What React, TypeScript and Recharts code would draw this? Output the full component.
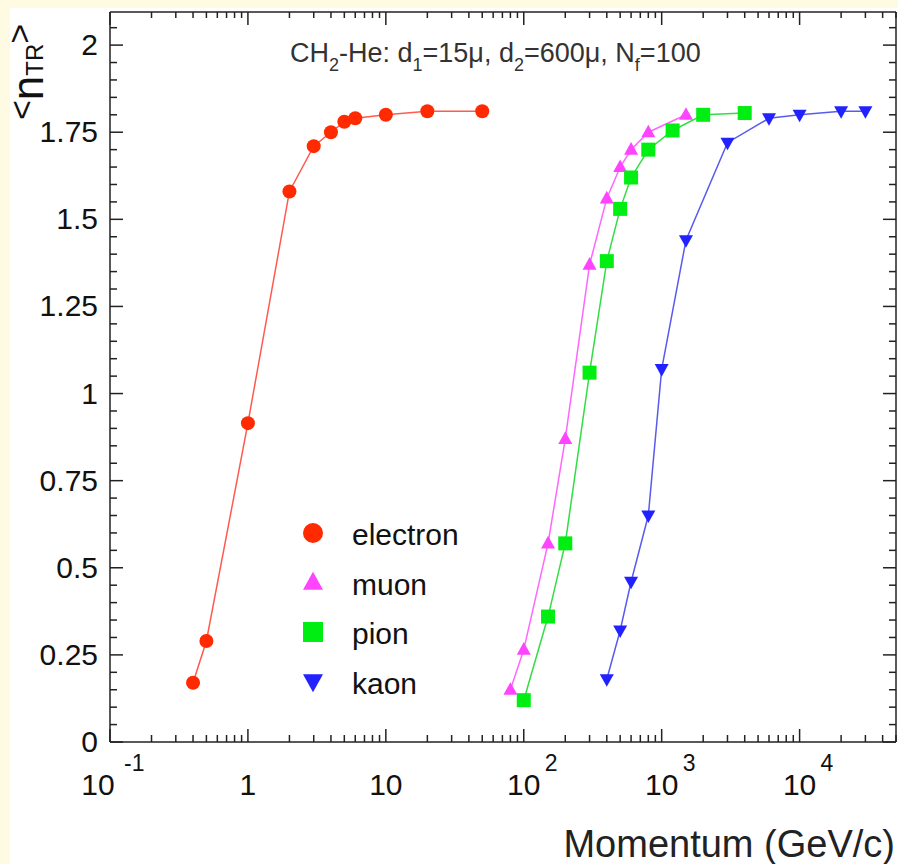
import React from 'react';
import { LineChart, Line, XAxis, YAxis, CartesianGrid, Legend } from 'recharts';

// momentum (GeV/c) vs mean number of TR photons
const electronP = [0.4, 0.5, 1, 2, 3, 4, 5, 6, 10, 20, 50];
const electronN = [0.17, 0.29, 0.915, 1.58, 1.71, 1.75, 1.78, 1.79, 1.80, 1.81, 1.81];

const muonP = [80, 100, 150, 200, 300, 400, 500, 600, 800, 1500];
const muonN = [0.15, 0.265, 0.57, 0.87, 1.37, 1.56, 1.65, 1.70, 1.75, 1.80];

const pionP = [100, 150, 200, 300, 400, 500, 600, 800, 1200, 2000, 4000];
const pionN = [0.12, 0.36, 0.57, 1.06, 1.38, 1.53, 1.62, 1.70, 1.755, 1.80, 1.805];

const kaonP = [400, 500, 600, 800, 1000, 1500, 3000, 6000, 10000, 20000, 30000];
const kaonN = [0.18, 0.32, 0.46, 0.65, 1.07, 1.44, 1.72, 1.79, 1.80, 1.81, 1.81];

const xDecades = [0.1, 1, 10, 100, 1000, 10000];
const xDecadeLabels = ['10', '1', '10', '10', '10', '10'];
const xDecadeExp = ['-1', '', '', '2', '3', '4'];
const yMajorLabels = ['0', '0.25', '0.5', '0.75', '1', '1.25', '1.5', '1.75', '2'];

const X_MAX = 50000;
const Y_MAX = 2.095;

const xTicks = xDecades
  .flatMap((d) => [1, 2, 3, 4, 5, 6, 7, 8, 9].map((m) => m * d))
  .filter((v) => v <= X_MAX);
const yTicks = Array.from({ length: 42 }, (_, i) => i * 0.05);

const zip = (xs: number[], ys: number[]) => xs.map((x, i) => ({ x, y: ys[i] }));

const FONT = '"Liberation Sans", Arial, sans-serif';
const AXIS = '#222';

const series = [
  { name: 'electron', data: zip(electronP, electronN), color: '#ff2a00', line: '#ff5a50', shape: 'circle' },
  { name: 'muon', data: zip(muonP, muonN), color: '#ff44ff', line: '#ff66ff', shape: 'up' },
  { name: 'pion', data: zip(pionP, pionN), color: '#00ee11', line: '#33dd44', shape: 'square' },
  { name: 'kaon', data: zip(kaonP, kaonN), color: '#2222ff', line: '#5a5aee', shape: 'down' },
];

const Marker = ({ shape, cx, cy, s, color }: any) => {
  if (shape === 'circle') return <circle cx={cx} cy={cy} r={s / 2} fill={color} />;
  if (shape === 'square') return <rect x={cx - s / 2} y={cy - s / 2} width={s} height={s} fill={color} />;
  const h = s * 0.9;
  const dir = shape === 'up' ? 1 : -1;
  const pts = [
    [cx, cy - dir * h * 0.6],
    [cx - s / 2, cy + dir * h * 0.4],
    [cx + s / 2, cy + dir * h * 0.4],
  ];
  return <polygon points={pts.map((p) => p.join(',')).join(' ')} fill={color} />;
};

const isDecade = (v: number) => xDecades.some((d) => Math.abs(v / d - 1) < 1e-6);
const isYMajor = (v: number) => Math.abs(v / 0.25 - Math.round(v / 0.25)) < 1e-6;

const BottomTick = (props: any) => {
  const { x, y, payload } = props;
  const v = payload.value;
  const major = isDecade(v);
  const len = major ? 13 : 7;
  const idx = xDecades.findIndex((d) => Math.abs(v / d - 1) < 1e-6);
  return (
    <g>
      <line x1={x} x2={x} y1={y} y2={y - len} stroke={AXIS} strokeWidth={1.5} />
      {major && (
        <>
          <text
            x={idx === 0 ? x - 12 : x}
            y={y + 53}
            textAnchor="middle"
            fontSize={30}
            fontFamily={FONT}
            fill="#111"
          >
            {xDecadeLabels[idx]}
          </text>
          {xDecadeExp[idx] && (
            <text x={idx === 0 ? x + 14 : x + 21} y={y + 29} fontSize={23} fontFamily={FONT} fill="#111">
              {xDecadeExp[idx]}
            </text>
          )}
        </>
      )}
    </g>
  );
};

const TopTick = (props: any) => {
  const { x, y, payload } = props;
  const len = isDecade(payload.value) ? 13 : 6;
  return <line x1={x} x2={x} y1={y} y2={y + len} stroke={AXIS} strokeWidth={1.5} />;
};

const LeftTick = (props: any) => {
  const { x, y, payload } = props;
  const v = payload.value;
  const major = isYMajor(v);
  return (
    <g>
      <line x1={x} x2={x + (major ? 13 : 7)} y1={y} y2={y} stroke={AXIS} strokeWidth={1.5} />
      {major && (
        <text x={x - 12} y={y + 10} textAnchor="end" fontSize={30} fontFamily={FONT} fill="#111">
          {yMajorLabels[Math.round(v / 0.25)]}
        </text>
      )}
    </g>
  );
};

const RightTick = (props: any) => {
  const { x, y, payload } = props;
  const len = isYMajor(payload.value) ? 13 : 7;
  return <line x1={x} x2={x - len} y1={y} y2={y} stroke={AXIS} strokeWidth={1.5} />;
};

const LegendBox = () => (
  <svg width={200} height={200}>
    {series.map((s, i) => {
      const cy = 21 + i * 49.5;
      return (
        <g key={s.name}>
          <Marker shape={s.shape} cx={13} cy={cy} s={20} color={s.color} />
          <text x={52} y={cy + 12} fontSize={30} fontFamily={FONT} fill="#111">
            {s.name}
          </text>
        </g>
      );
    })}
  </svg>
);

export default function App() {
  return (
    <div style={{ position: 'absolute', left: 0, top: 0, width: 898, height: 864, background: '#fefbe2' }}>
      <div style={{ position: 'absolute', left: 10, top: 8, width: 888, height: 856, background: '#fff' }} />
      <div style={{ position: 'absolute', left: 0, top: 0 }}>
        <LineChart width={898} height={864} margin={{ top: 0, right: 0, bottom: 0, left: 0 }}>
          <CartesianGrid horizontal={false} vertical={false} fill="#fff" />
          <XAxis
            dataKey="x"
            type="number"
            scale="log"
            domain={[0.1, X_MAX]}
            allowDataOverflow
            ticks={xTicks}
            interval={0}
            height={122}
            tickSize={0}
            tickMargin={0}
            tickLine={false}
            axisLine={{ stroke: AXIS, strokeWidth: 1.5 }}
            tick={<BottomTick />}
          />
          <XAxis
            xAxisId="top"
            orientation="top"
            dataKey="x"
            type="number"
            scale="log"
            domain={[0.1, X_MAX]}
            allowDataOverflow
            ticks={xTicks}
            interval={0}
            height={12}
            tickSize={0}
            tickMargin={0}
            tickLine={false}
            axisLine={{ stroke: AXIS, strokeWidth: 1.5 }}
            tick={<TopTick />}
          />
          <YAxis
            type="number"
            domain={[0, Y_MAX]}
            allowDataOverflow
            ticks={yTicks}
            interval={0}
            width={110}
            tickSize={0}
            tickMargin={0}
            tickLine={false}
            axisLine={{ stroke: AXIS, strokeWidth: 1.5 }}
            tick={<LeftTick />}
          />
          <YAxis
            yAxisId="right"
            orientation="right"
            type="number"
            domain={[0, Y_MAX]}
            allowDataOverflow
            ticks={yTicks}
            interval={0}
            width={2}
            tickSize={0}
            tickMargin={0}
            tickLine={false}
            axisLine={{ stroke: AXIS, strokeWidth: 1.5 }}
            tick={<RightTick />}
          />
          {series.map((s) => (
            <Line
              key={s.name}
              name={s.name}
              data={s.data}
              dataKey="y"
              stroke={s.line}
              strokeWidth={1.5}
              isAnimationActive={false}
              dot={(p: any) => <Marker key={p.index} shape={s.shape} cx={p.cx} cy={p.cy} s={14} color={s.color} />}
              activeDot={false}
            />
          ))}
          <Legend
            layout="vertical"
            align="center"
            verticalAlign="middle"
            content={<LegendBox />}
            wrapperStyle={{ position: 'absolute', left: 300, top: 512, width: 200, height: 200 }}
          />
        </LineChart>
      </div>
      <svg width={898} height={864} style={{ position: 'absolute', left: 0, top: 0, pointerEvents: 'none' }}>
        <text x={290} y={62} fontSize={27} fontFamily={FONT} fill="#333">
          CH<tspan fontSize={18} dy={9}>2</tspan>
          <tspan dy={-9}>-He: d</tspan>
          <tspan fontSize={18} dy={9}>1</tspan>
          <tspan dy={-9}>=15μ, d</tspan>
          <tspan fontSize={18} dy={9}>2</tspan>
          <tspan dy={-9}>=600μ, N</tspan>
          <tspan fontSize={18} dy={9}>f</tspan>
          <tspan dy={-9}>=100</tspan>
        </text>
        <g transform="translate(43,120) rotate(-90)">
          <text x={0} y={0} fontFamily={FONT} fill="#111">
            <tspan fontSize={34} dy={-10}>&lt;</tspan>
            <tspan fontSize={44} dy={10}>n</tspan>
            <tspan fontSize={24} dy={0}>TR</tspan>
            <tspan fontSize={34} dy={-12}>&gt;</tspan>
          </text>
        </g>
        <text x={895} y={857} textAnchor="end" fontSize={38} fontFamily={FONT} fill="#222">
          Momentum (GeV/c)
        </text>
      </svg>
    </div>
  );
}
